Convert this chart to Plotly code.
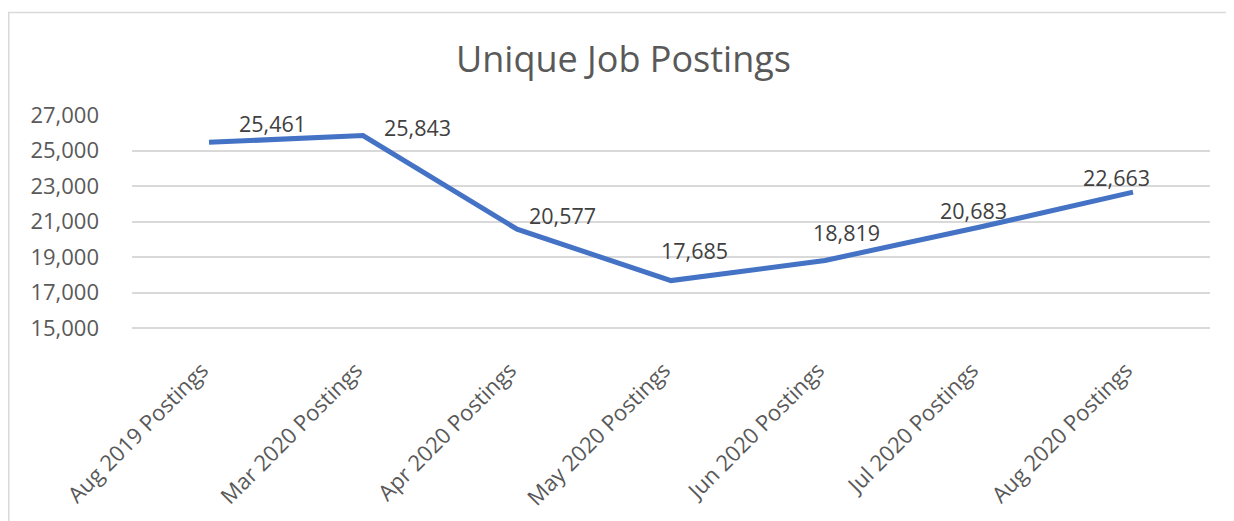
import plotly.graph_objects as go

categories = ["Aug 2019 Postings", "Mar 2020 Postings", "Apr 2020 Postings",
              "May 2020 Postings", "Jun 2020 Postings", "Jul 2020 Postings",
              "Aug 2020 Postings"]
postings = [25461, 25843, 20577, 17685, 18819, 20683, 22663]
y_ticks = [15000, 17000, 19000, 21000, 23000, 25000, 27000]

# data-label offsets (style): pixels from each point to its label centre
label_dx = [63, 54, 45, 23, 21, -6, -17]
label_dy = [19, 8, 14, 30, 28, 17, 15]

# the page body has an 8px margin, so the figure is 8px smaller than the window
W, H = 1226, 513
L, R, T, B = 124, 24, 107, 190
pw, ph = W - L - R, H - T - B

def px_x(p):
    return (p - L) / pw

def px_y(p):
    return (H - B - p) / ph

font_family = "Open Sans, Noto Sans, sans-serif"

fig = go.Figure()
fig.add_trace(go.Scatter(
    x=categories, y=postings, mode="lines",
    line=dict(color="#4472C4", width=5),
    showlegend=False, hoverinfo="x+y",
))

for c, v, dx, dy in zip(categories, postings, label_dx, label_dy):
    fig.add_annotation(x=c, y=v, text=f"{v:,}", showarrow=False,
                       xshift=dx, yshift=dy, xanchor="center", yanchor="middle",
                       font=dict(family=font_family, size=21.5, color="#404040"))

fig.update_layout(
    width=W, height=H,
    margin=dict(l=L, r=R, t=T, b=B, autoexpand=False),
    paper_bgcolor="white", plot_bgcolor="white",
    title=dict(text="Unique Job Postings", x=615.5 / W, xref="container", xanchor="center",
               y=1 - 51 / H, yref="container", yanchor="middle",
               font=dict(family=font_family, size=36, color="#595959")),
    xaxis=dict(tickangle=-45, showgrid=False, showline=False, ticks="",
               range=[-0.5, len(categories) - 0.5],
               automargin=False, ticklabelstandoff=21, ticklabelshift=-7,
               tickfont=dict(family=font_family, size=22, color="#595959")),
    yaxis=dict(range=[14850, 27000], tickvals=y_ticks,
               ticktext=[f"{v:,}" for v in y_ticks],
               showgrid=True, gridcolor="#D9D9D9", gridwidth=1.5,
               zeroline=False, showline=False, ticks="", ticklabelstandoff=32,
               automargin=False,
               tickfont=dict(family=font_family, size=22, color="#595959")),
    shapes=[dict(type="rect", xref="paper", yref="paper",
                 x0=px_x(0.75), x1=px_x(1240), y0=px_y(540), y1=px_y(4.5),
                 line=dict(color="#D9D9D9", width=1.5), fillcolor="rgba(0,0,0,0)",
                 layer="below")],
)

fig.write_html("out.html")
